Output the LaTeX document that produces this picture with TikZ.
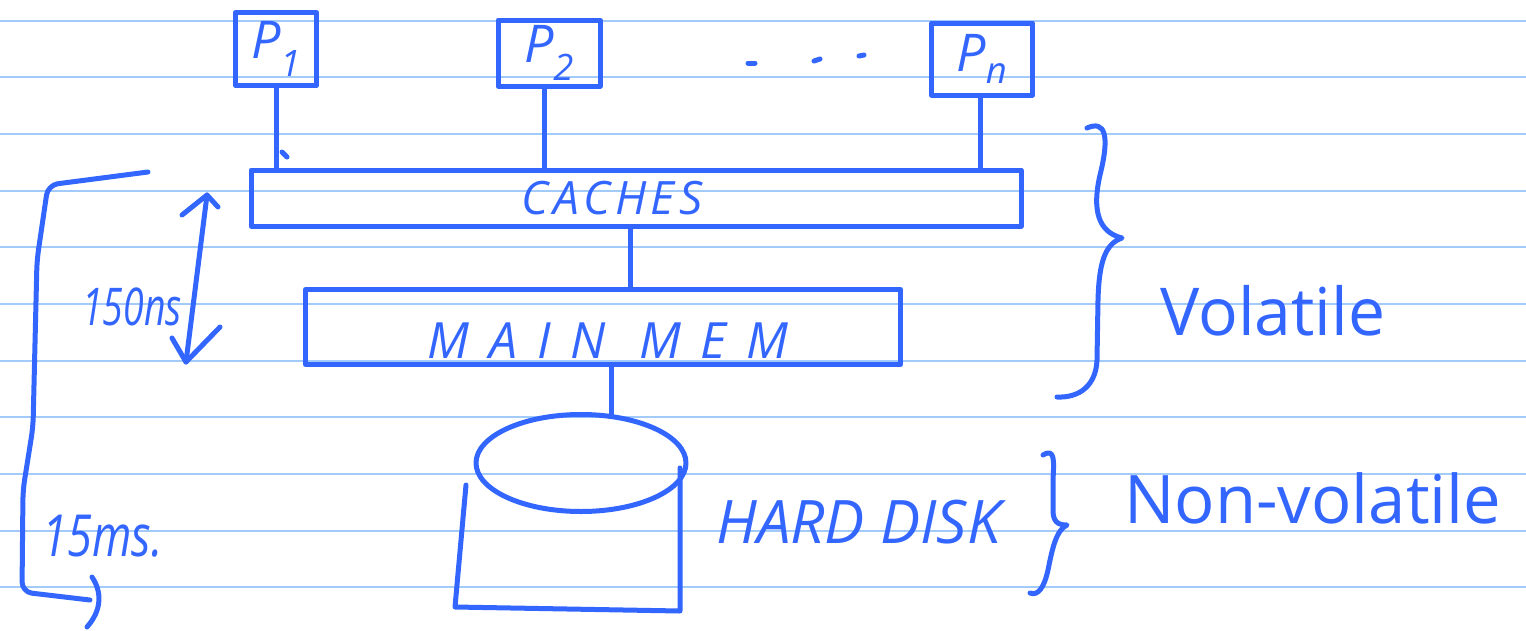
\documentclass[tikz,border=0pt]{standalone}
\usepackage{fontspec}
\setmainfont{Open Sans}
\usetikzlibrary{arrows.meta,shapes.geometric}
\definecolor{ink}{RGB}{51,102,255}
\definecolor{ruled}{RGB}{163,203,250}
\newcommand\plabel{\fontsize{52}{56}\selectfont\itshape}
\begin{document}
\begin{tikzpicture}[x=1pt,y=-1pt,
  pen/.style={draw=ink, line width=5pt, line cap=round, line join=round},
  box/.style={pen, rectangle, inner sep=0pt, text=ink},
  hand/.style={text=ink, inner sep=0pt}]
% paper with ruled lines
\fill[white] (0,0) rectangle (1526,630);
\useasboundingbox (0,0) rectangle (1526,630);
\foreach \k in {0,...,10}
  \draw[ruled, line width=2pt] (0,{20.7+56.65*\k}) -- (1526,{20.7+56.65*\k});

% processors
\node[box, minimum width=81pt, minimum height=73pt] (p1) at (276,49) {\plabel P\textsubscript{1}};
\node[box, minimum width=102pt, minimum height=66pt] (p2) at (549,53) {\plabel P\textsubscript{2}};
\node[box, minimum width=101pt, minimum height=72pt] (pn) at (982,59) {\plabel P\textsubscript{n}};
\draw[pen] (748,63) -- (755,63);
\draw[pen] (814,61) -- (820,59);
\draw[pen] (859,56) -- (864,55);

% caches and main memory
\node[box, minimum width=770pt, minimum height=56pt] (caches) at (636,198) {};
\node[hand, anchor=base, font=\fontsize{46}{50}\selectfont\itshape\addfontfeature{LetterSpace=10}] (cacheslbl) at (612,214) {CACHES};
\node[box, minimum width=595pt, minimum height=75pt] (mm) at (603,327) {};
\node[hand, anchor=base, font=\fontsize{50}{54}\selectfont\itshape\addfontfeature{LetterSpace=40}] (mmlbl) at (608,358) {MAIN MEM};

% hard disk
\node[pen, ellipse, minimum width=210pt, minimum height=97pt, inner sep=0pt] (platter) at (581,463) {};
\coordinate (dtl) at (466,485);
\coordinate (dbl) at (455,607);
\coordinate (dbr) at (680,611);
\coordinate (dtr) at (680,468);
\draw[pen] (dtl) -- (dbl) -- (dbr) -- (dtr);
\node[hand, anchor=base west, font=\fontsize{60}{64}\selectfont\itshape] (disklbl) at (716,543) {HARD DISK};

% connections
\draw[pen] (p1.south) -- (p1.south |- caches.north);
\draw[pen] (282,152) -- (287,157);
\draw[pen] ([xshift=-5pt]p2.south) -- ([xshift=-5pt]p2.south |- caches.north);
\draw[pen] ([xshift=-2pt]pn.south) -- ([xshift=-2pt]pn.south |- caches.north);
\draw[pen] ([xshift=-6pt]caches.south) -- ([xshift=-6pt]caches.south |- mm.north);
\draw[pen] (mm.south -| platter.58) -- (platter.58);

% access times
\coordinate (ttop) at (207,195);
\coordinate (tbot) at (186,362);
\draw[pen] (ttop) -- (tbot);
\draw[pen] (182,215) -- (ttop) -- (218,207);
\draw[pen] (172,338) -- (tbot) -- (220,327);
\node[hand, anchor=base west, font=\fontsize{52}{56}\selectfont\itshape] (fast) at (82,325) {\scalebox{0.72}[1]{150ns}};
\draw[pen, rounded corners=10pt] (148,172) -- (48,185) -- (37,260) -- (33,427) -- (23,490) -- (22,592) -- (90,600);
\draw[pen] (92,577) .. controls (102,592) and (102,610) .. (87,627);
\node[hand, anchor=base west, font=\fontsize{58}{62}\selectfont\itshape] (slow) at (42,556) {\scalebox{0.78}[1]{15ms.}};

% volatility braces
\draw[pen] (1087,128) .. controls (1105,120) and (1110,135) .. (1100,175)
  .. controls (1092,210) and (1098,232) .. (1122,238)
  .. controls (1104,244) and (1099,265) .. (1098,300) -- (1097,360)
  .. controls (1096,385) and (1080,398) .. (1057,397);
\node[hand, anchor=base west, font=\fontsize{66}{70}\selectfont] (vol) at (1160,335) {Volatile};
\draw[pen] (1043,455) .. controls (1055,448) and (1054,460) .. (1053,480) -- (1053,510)
  .. controls (1053,522) and (1058,525) .. (1067,525)
  .. controls (1056,530) and (1052,550) .. (1048,570)
  .. controls (1044,588) and (1038,596) .. (1030,593);
\node[hand, anchor=base west, font=\fontsize{67}{71}\selectfont] (nonvol) at (1124,523) {Non-volatile};
\end{tikzpicture}
\end{document}
